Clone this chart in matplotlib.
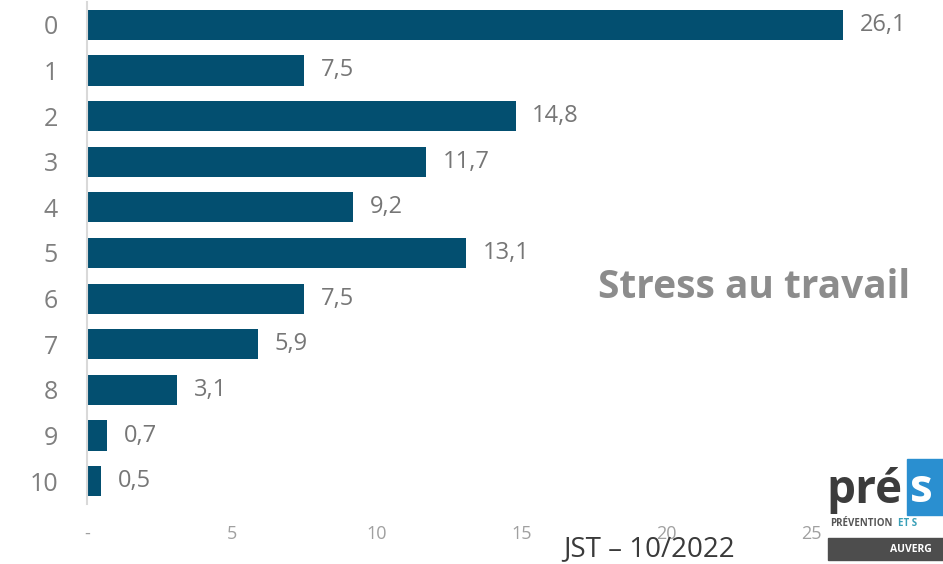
import matplotlib.pyplot as plt
from matplotlib.patches import Rectangle

# Données : répartition des notes de stress (0 à 10), en %
notes = ['0', '1', '2', '3', '4', '5', '6', '7', '8', '9', '10']
pourcentages = [26.1, 7.5, 14.8, 11.7, 9.2, 13.1, 7.5, 5.9, 3.1, 0.7, 0.5]
ticks_x = [0, 5, 10, 15, 20, 25]
ticks_x_labels = ['-', '5', '10', '15', '20', '25']

BLEU = '#034f70'
GRIS = '#7f7f7f'

plt.rcParams['font.family'] = ['Open Sans', 'DejaVu Sans']

fig = plt.figure(figsize=(9.43, 5.64), dpi=100)
ax = fig.add_axes([87 / 943, 1 - 504 / 564, 856 / 943, 502 / 564])

y = list(range(len(notes)))
bars = ax.barh(y, pourcentages, height=0.66, color=BLEU)
ax.set_ylim(len(notes) - 0.5, -0.5)
ax.set_xlim(0, 856 / 28.96)

# étiquettes de valeur (virgule décimale)
for b, v in zip(bars, pourcentages):
    ax.annotate(f'{v:.1f}'.replace('.', ','),
                xy=(b.get_width(), b.get_y() + b.get_height() / 2),
                xytext=(12, 0), textcoords='offset points',
                ha='left', va='center', fontsize=17, color='#767676')

ax.set_yticks(y)
ax.set_yticklabels(notes, fontsize=18, color=GRIS)
ax.set_xticks(ticks_x)
ax.set_xticklabels(ticks_x_labels, fontsize=13, color='#a0a0a0')
ax.tick_params(axis='y', length=0, pad=21)
ax.tick_params(axis='x', length=0, pad=15)

for s in ['top', 'right', 'bottom']:
    ax.spines[s].set_visible(False)
ax.spines['left'].set_color('#d9d9d9')
ax.spines['left'].set_linewidth(1.5)

fig.text(910 / 943, 1 - 288 / 564, 'Stress au travail', ha='right', va='center',
         fontsize=28, fontweight='bold', color='#8c8c8c')
fig.text(649 / 943, 1 - 549 / 564, 'JST – 10/2022', ha='center', va='center',
         fontsize=20, color='#3a3a3a')

# logo PRÉSANSE (rogné au bord droit)
fig.patches.append(Rectangle((907 / 943, 1 - 515 / 564), 0.06, 56 / 564,
                             transform=fig.transFigure, color='#2a8fd0', zorder=3))
fig.text(826 / 943, 1 - 490 / 564, 'pré', ha='left', va='center', fontsize=33,
         fontweight='bold', color='#3c3c3c', zorder=4)
fig.text(910 / 943, 1 - 490 / 564, 's', ha='left', va='center', fontsize=33,
         fontweight='bold', color='white', zorder=4)
fig.text(830 / 943, 1 - 523 / 564, 'PRÉVENTION', ha='left', va='center',
         fontsize=7, fontweight='bold', color='#555555')
fig.text(898 / 943, 1 - 523 / 564, 'ET S', ha='left', va='center',
         fontsize=7, fontweight='bold', color='#3aa0b8')
fig.patches.append(Rectangle((828 / 943, 4 / 564), 0.2, 22 / 564,
                             transform=fig.transFigure, color='#4d4d4d', zorder=3))
fig.text(890 / 943, 1 - 549 / 564, 'AUVERG', ha='left', va='center', fontsize=7.5,
         fontweight='bold', color='white', zorder=4)

fig.savefig('out.png', dpi=100)
